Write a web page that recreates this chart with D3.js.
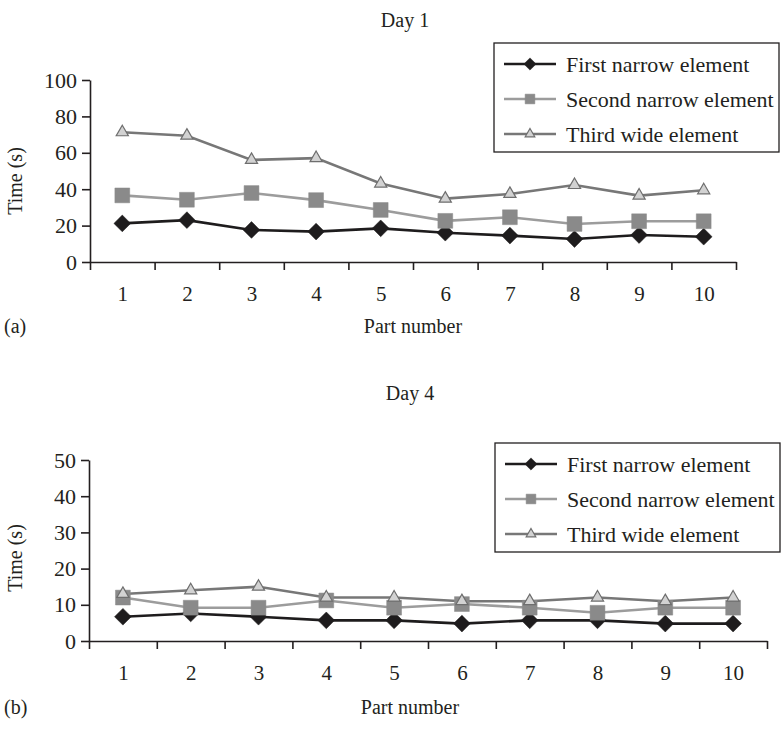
<!DOCTYPE html>
<html><head><meta charset="utf-8">
<script src="https://cdn.jsdelivr.net/npm/d3@7/dist/d3.min.js"></script>
<style>
body{margin:0;background:#fff;}
svg text{font-family:"Liberation Serif","Times New Roman",serif;fill:#231f20;}
</style></head>
<body>
<svg id="c" width="782" height="730"></svg>
<script>
// ---- data ----
const parts = [1,2,3,4,5,6,7,8,9,10];
const seriesNames = ["First narrow element","Second narrow element","Third wide element"];
const day1First  = [21.2, 23.0, 17.6, 16.7, 18.5, 16.1, 14.5, 12.6, 14.8, 13.9];
const day1Second = [36.6, 34.2, 37.9, 34.0, 28.6, 22.6, 24.6, 20.9, 22.4, 22.4];
const day1Third  = [71.3, 69.4, 56.1, 57.1, 43.1, 34.8, 37.4, 42.3, 36.5, 39.4];
const day4First  = [6.7, 7.6, 6.7, 5.7, 5.7, 4.8, 5.7, 5.7, 4.8, 4.8];
const day4Second = [12.0, 9.2, 9.2, 11.2, 9.2, 10.2, 9.2, 7.8, 9.2, 9.2];
const day4Third  = [13.0, 14.0, 15.0, 12.0, 12.0, 11.0, 11.0, 12.0, 11.0, 12.0];
const day1Ticks = [0,20,40,60,80,100];
const day4Ticks = [0,10,20,30,40,50];
const titles = ["Day 1","Day 4"];
const panelTags = ["(a)","(b)"];
const xTitle = "Part number";
const yTitle = "Time (s)";

const svg = d3.select("#c");
const styles = [
  {line:"#1e1c1d", fill:"#1e1c1d", stroke:"#1e1c1d", type:"diamond", size:140, lsize:75},
  {line:"#9c9c9c", fill:"#8a8a8a", stroke:"#8a8a8a", type:"square", size:220, lsize:95},
  {line:"#777777", fill:"#d2d2d2", stroke:"#6e6e6e", type:"triangle", size:64, lsize:40}
];
function sym(st, big){
  const s = big ? st.size : st.lsize;
  if(st.type==="diamond") return d3.symbol().type(d3.symbolSquare).size(s)();
  if(st.type==="square") return d3.symbol().type(d3.symbolSquare).size(s)();
  return d3.symbol().type(d3.symbolTriangle).size(s)();
}

function panel(cfg){
  const g = svg.append("g");
  const x = d3.scaleLinear().domain([0.5,10.5]).range([cfg.x0,cfg.x1]);
  const y = d3.scaleLinear().domain([0,cfg.ymax]).range([cfg.y0,cfg.y1]);

  // y axis
  const ya = g.append("g").attr("transform",`translate(${cfg.x0},0)`)
    .call(d3.axisLeft(y).tickValues(cfg.ticks).tickSize(8).tickPadding(5).tickSizeOuter(0));
  ya.selectAll("text").attr("font-size",22).attr("fill","#231f20");
  // x axis ticks
  const bounds = d3.range(0.5,11,1);
  g.append("g").attr("transform",`translate(0,${cfg.y0})`)
    .call(d3.axisBottom(x).tickValues(bounds).tickSize(8).tickFormat("").tickSizeOuter(0));
  const xl = g.append("g").attr("transform",`translate(0,${cfg.y0})`)
    .call(d3.axisBottom(x).tickValues(parts).tickSize(0).tickPadding(24).tickFormat(d3.format("d")));
  xl.select(".domain").remove();
  xl.selectAll("text").attr("font-size",21);
  g.selectAll(".domain").attr("stroke","#231f20").attr("stroke-width",1.6);
  g.selectAll(".tick line").attr("stroke","#231f20").attr("stroke-width",1.6);

  // series
  cfg.data.forEach((vals,i)=>{
    const st = styles[i];
    const line = d3.line().x((d,j)=>x(parts[j])).y(d=>y(d));
    g.append("path").attr("d",line(vals)).attr("fill","none")
      .attr("stroke",st.line).attr("stroke-width",2.6);
  });
  cfg.data.forEach((vals,i)=>{
    const st = styles[i];
    g.selectAll(null).data(vals).enter().append("path")
      .attr("d",sym(st,true))
      .attr("transform",(d,j)=>`translate(${x(parts[j])},${y(d)})${st.type==="diamond"?" rotate(45)":""}`)
      .attr("fill",st.fill).attr("stroke",st.stroke).attr("stroke-width",st.type==="triangle"?1.2:0.5);
  });

  // titles
  g.append("text").attr("x",cfg.tx).attr("y",cfg.ty).attr("text-anchor","middle")
    .attr("font-size",20).text(cfg.title);
  g.append("text").attr("x",(cfg.x0+cfg.x1)/2+(cfg.xtOff||0)).attr("y",cfg.xty).attr("text-anchor","middle")
    .attr("font-size",20).text(xTitle);
  g.append("text").attr("x",4).attr("y",cfg.xty).attr("font-size",20).text(cfg.tag);
  g.append("text").attr("transform",`translate(22,${cfg.yty}) rotate(-90)`).attr("text-anchor","middle")
    .attr("font-size",20).text(yTitle);

  // legend
  const L = g.append("g").attr("transform",`translate(${cfg.lx},${cfg.ly})`);
  L.append("rect").attr("x",0).attr("y",0).attr("width",285).attr("height",109)
    .attr("fill","#fff").attr("stroke","#231f20").attr("stroke-width",1.3);
  const rows = [21,56,91];
  seriesNames.forEach((nm,i)=>{
    const st = styles[i];
    L.append("line").attr("x1",10).attr("x2",62).attr("y1",rows[i]).attr("y2",rows[i])
      .attr("stroke",st.line).attr("stroke-width",2.6);
    L.append("path").attr("d",sym(st,false))
      .attr("transform",`translate(36,${rows[i]})${st.type==="diamond"?" rotate(45)":""}`)
      .attr("fill",st.fill).attr("stroke",st.stroke).attr("stroke-width",st.type==="triangle"?1.2:0.5);
    L.append("text").attr("x",72).attr("y",rows[i]).attr("dy","0.35em")
      .attr("font-size",22).text(nm);
  });
}

panel({x0:90,x1:736,y0:262,y1:80,ymax:100,ticks:day1Ticks,data:[day1First,day1Second,day1Third],
  title:titles[0],tx:405,ty:27,tag:panelTags[0],xty:333,yty:181,lx:494,ly:43});
panel({x0:89,x1:767,y0:641,y1:460,ymax:50,ticks:day4Ticks,data:[day4First,day4Second,day4Third],
  title:titles[1],tx:410,ty:400,tag:panelTags[1],xty:714,yty:558,lx:495,ly:443,xtOff:-18});
</script>
</body></html>
